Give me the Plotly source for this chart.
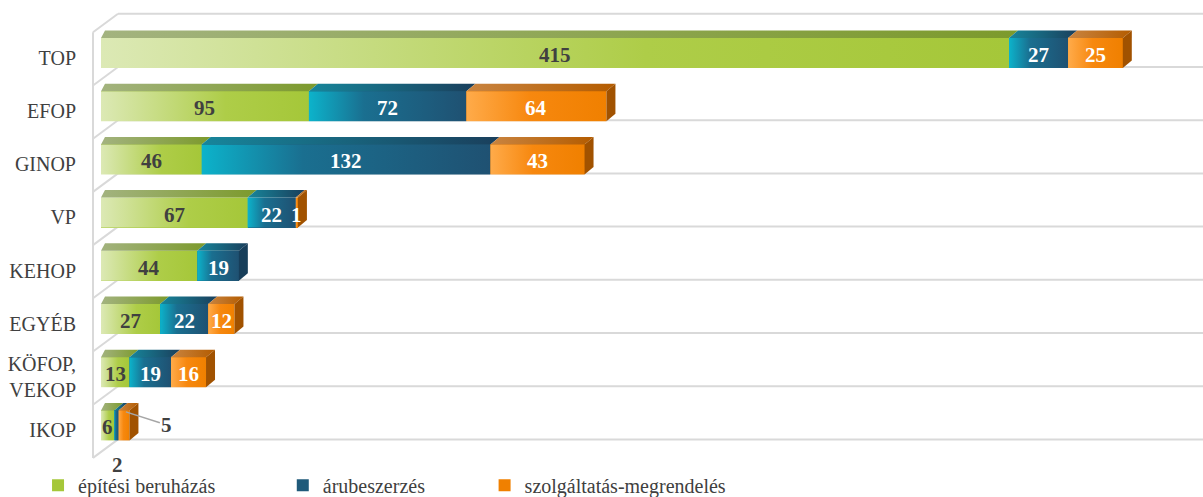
import plotly.graph_objects as go

# ---------------- data ----------------
categories = ["TOP", "EFOP", "GINOP", "VP", "KEHOP", "EGYÉB", "KÖFOP,<br>VEKOP", "IKOP"]
epitesi = [415, 95, 46, 67, 44, 27, 13, 6]
arubeszerzes = [27, 72, 132, 22, 19, 22, 19, 2]
szolgaltatas = [25, 64, 43, 1, 0, 12, 16, 5]
series_names = ["építési beruházás", "árubeszerzés", "szolgáltatás-megrendelés"]
series_values = [epitesi, arubeszerzes, szolgaltatas]

# ---------------- style ----------------
FONT = "Palatino Linotype, Book Antiqua, Palatino, Liberation Serif, serif"
TXT = "#404040"
GRID = "#d9d9d9"
W, H = 1203, 497
ML, MR, MT, MB = 88, 0, 5, 35
XR = [-5.94, 503.66]
YR = [-0.688, 7.902]
ux = (W - ML - MR) / (XR[1] - XR[0])  # px per value unit
uy = (H - MT - MB) / (YR[1] - YR[0])  # px per category unit

base_colors = ["#a5c739", "#1f5a7a", "#f08000"]
front_scales = [
    [[0, "#dce9b5"], [0.6, "#aecd48"], [1, "#a5c739"]],
    [[0, "#0cb3cb"], [0.35, "#1a6f90"], [1, "#1f5172"]],
    [[0, "#ffab4a"], [0.45, "#f7880f"], [1, "#f08000"]],
]
top_scales = [
    [[0, "#a3b37f"], [1, "#7c9a2c"]],
    [[0, "#17869b"], [1, "#1a3f5c"]],
    [[0, "#c98440"], [1, "#b45c00"]],
]
side_colors = ["#6f8a22", "#173e5a", "#a15200"]
label_colors = [TXT, "white", "white"]

half = 15 / uy          # half height of the front face
dx = 9 / ux             # 3D depth offsets
dy = 7.5 / uy
dx_left = 4 / ux
g_off = 14 / uy         # centre -> back floor line
wall_dx = 25 / ux
wall_dy = 18.5 / uy
x_front_wall = -8 / ux
x_back_wall = x_front_wall + wall_dx

n = len(categories)
ypos = [n - 1 - i for i in range(n)]

fig = go.Figure()

# legend / data bars (covered by the shaded 3D faces)
legends = ["legend", "legend2", "legend3"]
for s in range(3):
    fig.add_trace(go.Bar(
        y=ypos, x=series_values[s], orientation="h", name=series_names[s],
        marker=dict(color=base_colors[s], line=dict(width=0)),
        width=2 * half, legend=legends[s], hoverinfo="x+name",
    ))

# 3D faces
for i in range(n):
    yc = ypos[i]
    cum = 0
    last = None
    for s in range(3):
        v = series_values[s][i]
        if v <= 0:
            continue
        x0, x1 = cum, cum + v
        cum = x1
        first = x0 == 0
        fig.add_trace(go.Scatter(
            x=[x0, x1, x1, x0, x0], y=[yc - half, yc - half, yc + half, yc + half, yc - half],
            mode="lines", line=dict(width=0), fill="toself",
            fillgradient=dict(type="horizontal", colorscale=front_scales[s]),
            showlegend=False, hoverinfo="skip"))
        yt = yc + half
        fig.add_trace(go.Scatter(
            x=[x0, x1, x1 + dx, x0 + (dx_left if first else dx), x0],
            y=[yt, yt, yt + dy, yt + dy, yt],
            mode="lines", line=dict(width=0), fill="toself",
            fillgradient=dict(type="horizontal", colorscale=top_scales[s]),
            showlegend=False, hoverinfo="skip"))
        last = (s, x1)
    if last:
        s, x1 = last
        fig.add_trace(go.Scatter(
            x=[x1, x1 + dx, x1 + dx, x1, x1],
            y=[yc - half, yc - half + dy, yc + half + dy, yc + half, yc - half],
            mode="lines", line=dict(width=0), fill="toself", fillcolor=side_colors[s],
            showlegend=False, hoverinfo="skip"))

# walls / floor lines
shapes = []
for k in range(n + 1):
    yb = k - g_off
    shapes.append(dict(type="line", xref="x", yref="y", x0=x_front_wall, y0=yb - wall_dy,
                       x1=x_back_wall, y1=yb, line=dict(color=GRID, width=2), layer="below"))
    shapes.append(dict(type="line", xref="x", yref="y", x0=x_back_wall, y0=yb,
                       x1=XR[1], y1=yb, line=dict(color=GRID, width=2), layer="below"))
shapes.append(dict(type="line", xref="x", yref="y", x0=x_front_wall, y0=-g_off - wall_dy,
                   x1=x_front_wall, y1=n - g_off - wall_dy, line=dict(color=GRID, width=2),
                   layer="below"))

# data labels
annotations = []
lab_font = dict(family=FONT, size=21, color=TXT)
for i in range(n):
    yc = ypos[i]
    cum = 0
    for s in range(3):
        v = series_values[s][i]
        x0 = cum
        cum += v
        if v <= 0:
            continue
        xc = x0 + v / 2
        f = dict(lab_font, color=label_colors[s])
        if categories[i] == "IKOP" and s == 1:
            # too narrow: label placed below the bar
            annotations.append(dict(x=xc, y=yc - half, xref="x", yref="y", text="<b>%d</b>" % v,
                                    showarrow=False, yshift=-25, xshift=1, font=lab_font))
        elif categories[i] == "IKOP" and s == 2:
            annotations.append(dict(x=cum - 2 / ux * 1.8, y=yc + half - 1.5 / uy, xref="x", yref="y",
                                    text="<b>%d</b>" % v, showarrow=True, arrowhead=0,
                                    arrowwidth=1.5, arrowcolor="#a6a6a6", ax=41, ay=13,
                                    standoff=0, font=lab_font))
        else:
            annotations.append(dict(x=xc, y=yc - 2 / uy, xref="x", yref="y", text="<b>%d</b>" % v,
                                    showarrow=False, font=f))

leg_common = dict(orientation="h", yanchor="middle", y=-0.051, xanchor="left",
                  font=dict(family=FONT, size=20, color=TXT), bgcolor="rgba(0,0,0,0)",
                  borderwidth=0)
sh = 3 / (W - ML - MR)

fig.update_layout(
    width=W, height=H,
    margin=dict(l=ML, r=MR, t=MT, b=MB, autoexpand=False),
    paper_bgcolor="white", plot_bgcolor="white",
    barmode="stack", bargap=0,
    font=dict(family=FONT, color=TXT),
    xaxis=dict(range=XR, visible=False, fixedrange=True, automargin=False),
    yaxis=dict(range=YR, tickvals=[y - 0.09 for y in ypos], ticktext=categories,
               showgrid=False, zeroline=False, showline=False, ticks="",
               ticklabelstandoff=11, tickfont=dict(family=FONT, size=20, color=TXT),
               fixedrange=True, automargin=False),
    shapes=shapes,
    annotations=annotations,
    legend=dict(leg_common, x=-0.0475 + sh),
    legend2=dict(leg_common, x=0.172 + sh),
    legend3=dict(leg_common, x=0.353 + sh),
    showlegend=True,
)

fig.write_html("out.html", config={"displayModeBar": False},
               post_script="document.body.style.margin='0';document.body.style.overflow='hidden';")
